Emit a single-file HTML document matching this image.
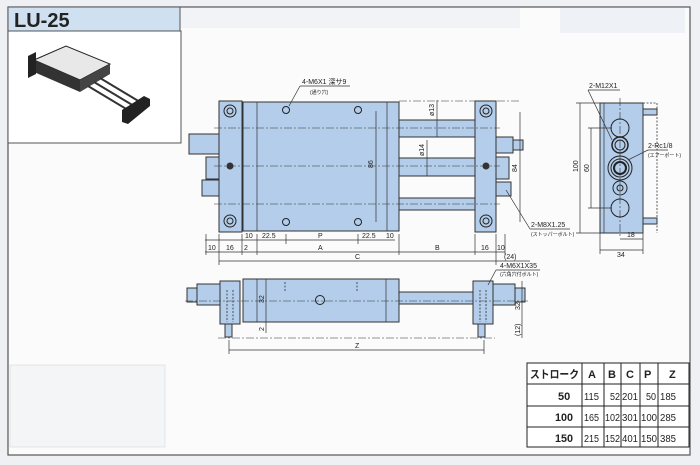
<!DOCTYPE html>
<html><head><meta charset="utf-8"><style>
html,body{margin:0;padding:0;background:#eef0f3;}
svg{display:block}
text{font-family:"Liberation Sans","Noto Sans CJK JP",sans-serif;fill:#222}
.f{fill:#b3cdea;stroke:#333;stroke-width:1}
.l{stroke:#333;stroke-width:.7;fill:none}
.c{stroke:#333;stroke-width:.6;stroke-dasharray:8 2 2 2;fill:none}
.d{stroke:#333;stroke-width:.8;stroke-dasharray:2 1.5;fill:none}
.s{font-size:7px}
.t{font-size:11px;font-weight:bold}
.n{font-size:10px}
</style></head><body>
<svg width="700" height="465" viewBox="0 0 700 465">
<rect x="0" y="0" width="700" height="465" fill="#eef0f3"/>
<rect x="8" y="7" width="682" height="448" fill="#fbfbfc" stroke="#555" stroke-width="1.2"/>
<rect x="180" y="8" width="340" height="20" fill="#f1f3f6"/>
<rect x="560" y="8" width="125" height="25" fill="#eef1f6"/>
<rect x="10" y="365" width="155" height="82" fill="#f4f5f7" stroke="#e2e4e8"/>
<rect x="8" y="7" width="172" height="24" fill="#cfe0f1" stroke="#555"/>
<text x="14" y="27" style="font-size:20px;font-weight:bold">LU-25</text>
<rect x="8" y="31" width="173" height="112" fill="#fff" stroke="#555"/>
<polygon points="34,60 66,46 110,64 80,80" fill="#e8e8e8" stroke="#222"/>
<polygon points="34,60 80,80 80,92 34,72" fill="#333"/>
<polygon points="80,80 110,64 110,74 80,92" fill="#444"/>
<polygon points="28,56 36,52 36,74 28,78" fill="#222"/>
<line x1="100" y1="78" x2="140" y2="102" stroke="#333" stroke-width="2"/>
<line x1="94" y1="82" x2="134" y2="106" stroke="#333" stroke-width="2"/>
<line x1="88" y1="86" x2="128" y2="110" stroke="#333" stroke-width="2"/>
<polygon points="122,110 144,96 150,99 150,106 128,124 122,122" fill="#222"/>

<g>
<rect class="f" x="189" y="134" width="30" height="20"/>
<rect class="f" x="206" y="157" width="13" height="22"/>
<rect class="f" x="202" y="180" width="17" height="16"/>
<rect class="f" x="399" y="120" width="76" height="17"/>
<rect class="f" x="399" y="158" width="76" height="18"/>
<rect class="f" x="399" y="198" width="76" height="12"/>
<rect class="f" x="219" y="101" width="23" height="131"/>
<rect class="f" x="243" y="102" width="156" height="129"/>
<line class="l" x1="257" y1="102" x2="257" y2="231"/>
<line class="l" x1="387" y1="102" x2="387" y2="231"/>
<rect class="f" x="475" y="101" width="21" height="131"/>
<rect class="f" x="496" y="137" width="17" height="16"/>
<rect class="f" x="496" y="157" width="13" height="22"/>
<rect class="f" x="496" y="182" width="15" height="14"/>
<rect class="f" x="513" y="140" width="10" height="10"/>
<g fill="none" stroke="#222">
<circle cx="230" cy="111" r="6"/><circle cx="230" cy="111" r="3"/>
<circle cx="230" cy="221" r="6"/><circle cx="230" cy="221" r="3"/>
<circle cx="486" cy="111" r="6"/><circle cx="486" cy="111" r="3"/>
<circle cx="486" cy="221" r="6"/><circle cx="486" cy="221" r="3"/>
<circle cx="286" cy="110" r="3.5"/><circle cx="358" cy="110" r="3.5"/>
<circle cx="286" cy="222" r="3.5"/><circle cx="358" cy="222" r="3.5"/>
</g>
<circle cx="230" cy="166" r="3.5" fill="#333"/><circle cx="486" cy="166" r="3.5" fill="#333"/>
<line class="c" x1="214" y1="128" x2="500" y2="128"/>
<line class="c" x1="214" y1="166" x2="500" y2="166"/>
<line class="c" x1="214" y1="204" x2="500" y2="204"/>
<line class="c" x1="399" y1="101" x2="520" y2="101"/>
<line class="d" x1="189" y1="134" x2="219" y2="134"/>
<line class="l" x1="376" y1="111" x2="376" y2="222"/>
<text class="s" transform="translate(373,168) rotate(-90)">86</text>
<line class="l" x1="437" y1="100" x2="437" y2="137"/>
<text class="s" transform="translate(434,116) rotate(-90)">ø13</text>
<line class="l" x1="427" y1="140" x2="427" y2="176"/>
<text class="s" transform="translate(424,156) rotate(-90)">ø14</text>
<line class="l" x1="520" y1="112" x2="520" y2="222"/>
<text class="s" transform="translate(517,172) rotate(-90)">84</text>
<line class="l" x1="289" y1="106" x2="300" y2="86"/><line class="l" x1="300" y1="86" x2="350" y2="86"/>
<text class="s" x="302" y="84">4-M6X1 深サ9</text>
<text x="310" y="94" style="font-size:5px">(通り穴)</text>
<line class="l" x1="506" y1="190" x2="530" y2="229"/><line class="l" x1="530" y1="229" x2="570" y2="229"/>
<text class="s" x="531" y="227">2-M8X1.25</text>
<text x="531" y="236" style="font-size:5px">(ストッパーボルト)</text>
</g>
<g class="l">
<line x1="205" y1="240" x2="395" y2="240"/>
<line x1="205" y1="252" x2="505" y2="252"/>
<line x1="219" y1="261" x2="497" y2="261"/>
<line x1="497" y1="261" x2="530" y2="261"/>
<line x1="219" y1="234" x2="219" y2="265"/><line x1="242" y1="234" x2="242" y2="255"/>
<line x1="257" y1="234" x2="257" y2="255"/><line x1="286" y1="234" x2="286" y2="244"/>
<line x1="358" y1="234" x2="358" y2="244"/><line x1="399" y1="234" x2="399" y2="255"/>
<line x1="475" y1="234" x2="475" y2="255"/><line x1="496" y1="234" x2="496" y2="265"/>
<line x1="206" y1="234" x2="206" y2="255"/><line x1="505" y1="234" x2="505" y2="255"/>
</g>
<g class="s">
<text x="245" y="238">10</text><text x="262" y="238">22.5</text><text x="318" y="238">P</text>
<text x="362" y="238">22.5</text><text x="386" y="238">10</text>
<text x="208" y="250">10</text><text x="226" y="250">16</text><text x="244" y="250">2</text>
<text x="318" y="250">A</text><text x="435" y="250">B</text>
<text x="481" y="250">16</text><text x="497" y="250">10</text>
<text x="355" y="259">C</text><text x="504" y="259">(24)</text>
</g>

<rect class="f" x="600" y="103" width="43" height="130"/>
<line class="l" x1="604" y1="103" x2="604" y2="233"/>
<rect class="f" x="643" y="109" width="14" height="6"/><rect class="f" x="643" y="218" width="14" height="6"/>
<line class="c" x1="620" y1="98" x2="620" y2="238"/>
<line class="d" x1="643" y1="103" x2="657" y2="103"/><line class="d" x1="657" y1="103" x2="657" y2="233"/>
<g fill="none" stroke="#222">
<circle cx="620" cy="128" r="9"/><circle cx="620" cy="208" r="9"/>
<circle cx="620" cy="145" r="8" stroke-width="1.5"/><circle cx="620" cy="145" r="5"/>
<circle cx="620" cy="168" r="12"/><circle cx="620" cy="168" r="9"/><circle cx="620" cy="168" r="6" stroke-width="2"/>
<circle cx="620" cy="188" r="7"/><circle cx="620" cy="188" r="3"/>
</g>
<g class="l">
<line x1="580" y1="103" x2="580" y2="233"/><line x1="576" y1="103" x2="600" y2="103"/><line x1="576" y1="233" x2="600" y2="233"/>
<line x1="591" y1="128" x2="591" y2="208"/><line x1="588" y1="128" x2="612" y2="128"/><line x1="588" y1="208" x2="612" y2="208"/>
<line x1="620" y1="239" x2="643" y2="239"/><line x1="600" y1="250" x2="643" y2="250"/>
<line x1="600" y1="233" x2="600" y2="254"/><line x1="643" y1="233" x2="643" y2="254"/>
<line x1="612" y1="140" x2="588" y2="90"/><line x1="588" y1="90" x2="620" y2="90"/>
<line x1="628" y1="160" x2="648" y2="150"/><line x1="648" y1="150" x2="668" y2="150"/>
</g>
<text class="s" transform="translate(578,172) rotate(-90)">100</text>
<text class="s" transform="translate(589,172) rotate(-90)">60</text>
<text class="s" x="627" y="237">18</text><text class="s" x="617" y="257">34</text>
<text class="s" x="589" y="88">2-M12X1</text>
<text class="s" x="648" y="148">2-Rc1/8</text>
<text x="648" y="157" style="font-size:5px">(エアーポート)</text>

<rect class="f" x="187" y="288" width="10" height="14"/>
<rect class="f" x="197" y="284" width="23" height="21"/>
<rect class="f" x="399" y="292" width="76" height="12"/>
<rect class="f" x="243" y="279" width="156" height="43"/>
<line class="l" x1="257" y1="279" x2="257" y2="322"/><line class="l" x1="386" y1="279" x2="386" y2="322"/>
<rect class="f" x="220" y="281" width="20" height="43"/>
<rect class="f" x="225" y="324" width="7" height="13"/>
<rect class="f" x="473" y="281" width="20" height="43"/>
<rect class="f" x="478" y="324" width="7" height="13"/>
<rect class="f" x="493" y="284" width="22" height="21"/>
<rect class="f" x="515" y="288" width="10" height="14"/>
<circle cx="320" cy="300" r="4.5" fill="none" stroke="#222"/>
<line class="c" x1="185" y1="301" x2="528" y2="301"/>
<line class="c" x1="218" y1="338" x2="495" y2="338"/>
<line class="d" x1="285" y1="282" x2="285" y2="292"/><line class="d" x1="357" y1="282" x2="357" y2="292"/>
<line class="d" x1="227" y1="290" x2="227" y2="322"/><line class="d" x1="233" y1="290" x2="233" y2="322"/>
<line class="d" x1="480" y1="290" x2="480" y2="322"/><line class="d" x1="486" y1="290" x2="486" y2="322"/>
<g class="l">
<line x1="266" y1="279" x2="266" y2="322"/><line x1="266" y1="322" x2="266" y2="333"/>
<line x1="229" y1="350" x2="484" y2="350"/><line x1="229" y1="340" x2="229" y2="354"/><line x1="484" y1="340" x2="484" y2="354"/>
<line x1="522" y1="281" x2="522" y2="338"/>
<line x1="488" y1="285" x2="496" y2="270"/><line x1="496" y1="270" x2="540" y2="270"/>
</g>
<text class="s" transform="translate(264,303) rotate(-90)">32</text>
<text class="s" transform="translate(264,331) rotate(-90)">2</text>
<text class="s" transform="translate(520,310) rotate(-90)">32</text>
<text class="s" transform="translate(520,336) rotate(-90)">(12)</text>
<text class="s" x="355" y="348">Z</text>
<text class="s" x="500" y="268">4-M6X1X35</text>
<text x="500" y="276" style="font-size:5px">(六角穴付ボルト)</text>

<g stroke="#222" stroke-width="1" fill="none">
<rect x="527" y="363" width="162" height="84" fill="#fff"/>
<line x1="527" y1="384" x2="689" y2="384"/>
<line x1="527" y1="406" x2="689" y2="406"/>
<line x1="527" y1="427" x2="689" y2="427"/>
<line x1="582" y1="363" x2="582" y2="447"/><line x1="604" y1="363" x2="604" y2="447"/>
<line x1="621" y1="363" x2="621" y2="447"/><line x1="640" y1="363" x2="640" y2="447"/>
<line x1="658" y1="363" x2="658" y2="447"/>
</g>
<g class="t">
<text x="530" y="378" textLength="49" lengthAdjust="spacingAndGlyphs">ストローク</text>
<text x="588" y="378">A</text><text x="608" y="378">B</text><text x="626" y="378">C</text>
<text x="644" y="378">P</text><text x="669" y="378">Z</text>
<text x="558" y="400">50</text>
<text x="555" y="421" textLength="18" lengthAdjust="spacingAndGlyphs">100</text>
<text x="555" y="442" textLength="18" lengthAdjust="spacingAndGlyphs">150</text>
</g>
<g class="n">
<text x="584" y="400" textLength="15" lengthAdjust="spacingAndGlyphs">115</text><text x="610" y="400" textLength="10" lengthAdjust="spacingAndGlyphs">52</text><text x="622" y="400" textLength="16" lengthAdjust="spacingAndGlyphs">201</text><text x="646" y="400" textLength="10" lengthAdjust="spacingAndGlyphs">50</text><text x="660" y="400" textLength="16" lengthAdjust="spacingAndGlyphs">185</text>
<text x="584" y="421" textLength="15" lengthAdjust="spacingAndGlyphs">165</text><text x="605" y="421" textLength="15" lengthAdjust="spacingAndGlyphs">102</text><text x="622" y="421" textLength="16" lengthAdjust="spacingAndGlyphs">301</text><text x="641" y="421" textLength="16" lengthAdjust="spacingAndGlyphs">100</text><text x="660" y="421" textLength="16" lengthAdjust="spacingAndGlyphs">285</text>
<text x="584" y="442" textLength="15" lengthAdjust="spacingAndGlyphs">215</text><text x="605" y="442" textLength="15" lengthAdjust="spacingAndGlyphs">152</text><text x="622" y="442" textLength="16" lengthAdjust="spacingAndGlyphs">401</text><text x="641" y="442" textLength="16" lengthAdjust="spacingAndGlyphs">150</text><text x="660" y="442" textLength="16" lengthAdjust="spacingAndGlyphs">385</text>
</g>
</svg>
</body></html>
